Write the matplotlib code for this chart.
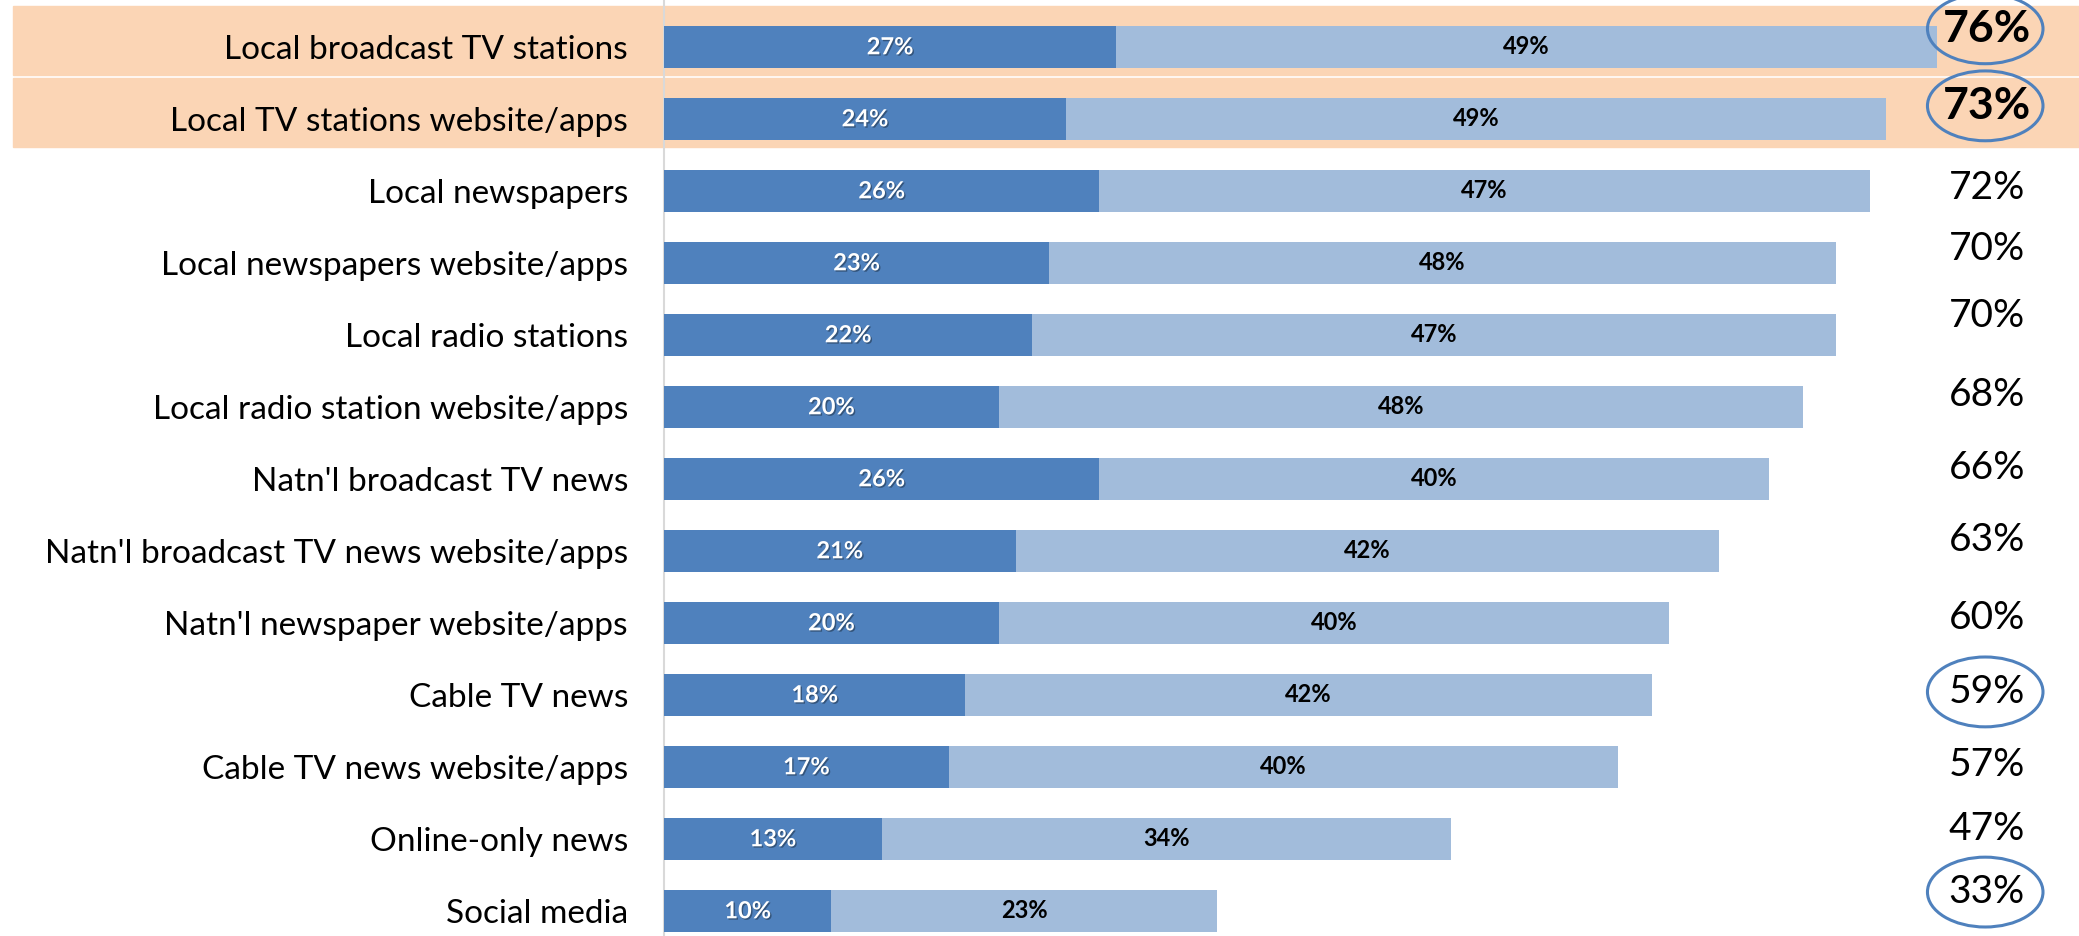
import matplotlib
matplotlib.use("Agg")
import matplotlib.pyplot as plt
import matplotlib.patheffects as pe
from matplotlib.patches import Ellipse, Rectangle
import matplotlib.transforms as mtransforms

# Data
categories = [
    "Local broadcast TV stations",
    "Local TV stations website/apps",
    "Local newspapers",
    "Local newspapers website/apps",
    "Local radio stations",
    "Local radio station website/apps",
    "Natn'l broadcast TV news",
    "Natn'l broadcast TV news website/apps",
    "Natn'l newspaper website/apps",
    "Cable TV news",
    "Cable TV news website/apps",
    "Online-only news",
    "Social media",
]
very_much = [27, 24, 26, 23, 22, 20, 26, 21, 20, 18, 17, 13, 10]
somewhat = [49, 49, 47, 48, 47, 48, 40, 42, 40, 42, 40, 34, 23]
totals = [76, 73, 72, 70, 70, 68, 66, 63, 60, 59, 57, 47, 33]
highlighted = [0, 1]          # rows with the orange band
circled = [0, 1, 9, 12]       # totals with an ellipse round them

# small vertical nudges of the total labels (in row units)
total_dy = [-0.25, -0.18, -0.04, -0.19, -0.26, -0.17, -0.15, -0.15, -0.06, -0.04, -0.03, -0.14, -0.26]

dark = "#4F81BD"
light = "#A2BCDB"
band = "#FBD5B5"
font = "Lato"

fig = plt.figure(figsize=(20.79, 9.36), dpi=100)
ax = fig.add_axes([664 / 2079, 0, 1 - 664 / 2079, 1])

y = list(range(len(categories)))
bar_h = 0.58
# the light part runs up to the rounded total, as in the original
rest = [t - v for t, v in zip(totals, very_much)]
ax.barh(y, very_much, height=bar_h, color=dark, zorder=3)
ax.barh(y, rest, left=very_much, height=bar_h, color=light, zorder=3)

ax.set_xlim(0, 84.5)
ax.set_ylim(12.35, -0.65)

# orange bands behind the highlighted rows (span the label area too)
trans = mtransforms.blended_transform_factory(fig.transFigure, ax.transData)
for i in highlighted:
    ax.add_patch(Rectangle((13 / 2079, i - 0.57), 1, 0.96, transform=trans,
                           color=band, clip_on=False, zorder=0))

shadow = [pe.withSimplePatchShadow(offset=(1, -1), shadow_rgbFace="k", alpha=0.35)]
for i in y:
    ax.text(very_much[i] / 2, i, f"{very_much[i]}%", ha="center", va="center",
            color="white", fontsize=17, fontweight="bold", family=font,
            zorder=4, path_effects=shadow)
    ax.text(very_much[i] + rest[i] / 2, i, f"{somewhat[i]}%", ha="center",
            va="center", color="black", fontsize=17, fontweight="bold",
            family=font, zorder=4)
    bold = i in highlighted
    ax.text(79.0, i + total_dy[i], f"{totals[i]}%", ha="center", va="center",
            fontsize=32 if bold else 28, fontweight="bold" if bold else "normal",
            family=font, color="black", zorder=5)
    if i in circled:
        ax.add_patch(Ellipse((78.9, i + total_dy[i]), 6.9, 0.97, fill=False,
                             edgecolor=dark, linewidth=2.2, zorder=6,
                             clip_on=False))

ax.set_yticks(y)
ax.set_yticklabels(categories, fontsize=24, family=font)
ax.tick_params(axis="y", length=0, pad=26)
ax.set_xticks([])
for s in ["top", "right", "bottom"]:
    ax.spines[s].set_visible(False)
ax.spines["left"].set_color("#D9D9D9")
ax.spines["left"].set_linewidth(1.5)
ax.patch.set_alpha(0)

fig.savefig("out.png", dpi=100)
